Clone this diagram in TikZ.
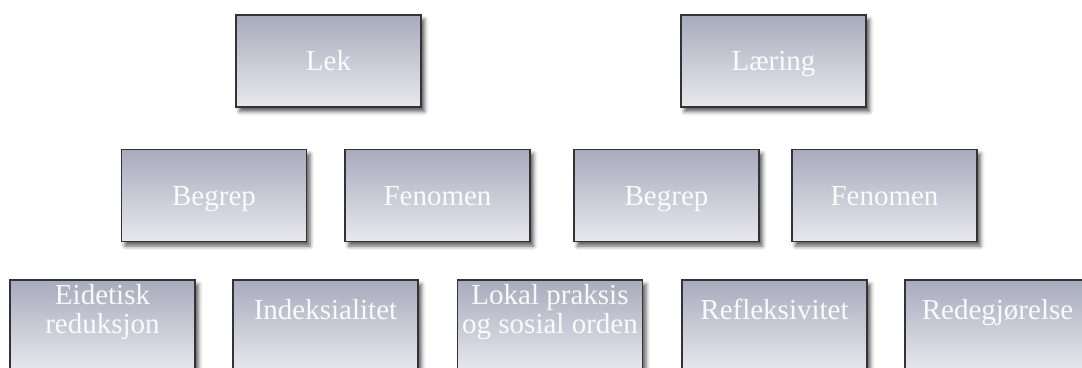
\documentclass[tikz,border=0pt]{standalone}
\usepackage{fontspec}
\setmainfont{Liberation Serif}
\usetikzlibrary{shadows.blur}
\definecolor{gtop}{RGB}{168,171,189}
\definecolor{gbot}{RGB}{232,232,237}
\definecolor{bord}{RGB}{50,50,55}
\tikzset{
  box/.style={draw=bord, line width=1.1pt, top color=gtop, bottom color=gbot,
    minimum width=185pt, minimum height=92pt, inner sep=0pt,
    blur shadow={shadow xshift=3.5pt, shadow yshift=-4.5pt, shadow blur radius=4pt, shadow opacity=65}},
  lbl/.style={text=white, text opacity=0.92, font=\fontsize{29}{28.5}\selectfont, align=center},
  boxlbl/.style={box, lbl, text height=25pt, text depth=6pt}
}
\begin{document}
\begin{tikzpicture}[x=1pt,y=-1pt]
\useasboundingbox (0,0) rectangle (1082,367);
\clip (0,0) rectangle (1082,367);
% top row
\node[boxlbl] (lek) at (328.5,61) {Lek};
\node[boxlbl] (laering) at (773.5,61) {Læring};
% middle row
\node[boxlbl] (begrep1) at (214,195.5) {Begrep};
\node[boxlbl] (fenomen1) at (437.5,195.5) {Fenomen};
\node[boxlbl] (begrep2) at (666.5,195.5) {Begrep};
\node[boxlbl] (fenomen2) at (884.5,195.5) {Fenomen};
% bottom row
\node[box] (eid) at (102.5,326) {};
\node[box] (ind) at (325.5,326) {};
\node[box] (lok) at (550,326) {};
\node[box] (ref) at (774.5,326) {};
\node[box] (red) at (997.5,326) {};
\node[lbl, anchor=base] (teid) at ([yshift=-54pt]eid.north) {Eidetisk\\reduksjon};
\node[lbl, anchor=base] (tind) at ([yshift=-40pt]ind.north) {Indeksialitet};
\node[lbl, anchor=base] (tlok) at ([yshift=-54pt]lok.north) {Lokal praksis\\og sosial orden};
\node[lbl, anchor=base] (tref) at ([yshift=-40pt]ref.north) {Refleksivitet};
\node[lbl, anchor=base] (tred) at ([yshift=-40pt]red.north) {Redegjørelse};
\end{tikzpicture}
\end{document}
